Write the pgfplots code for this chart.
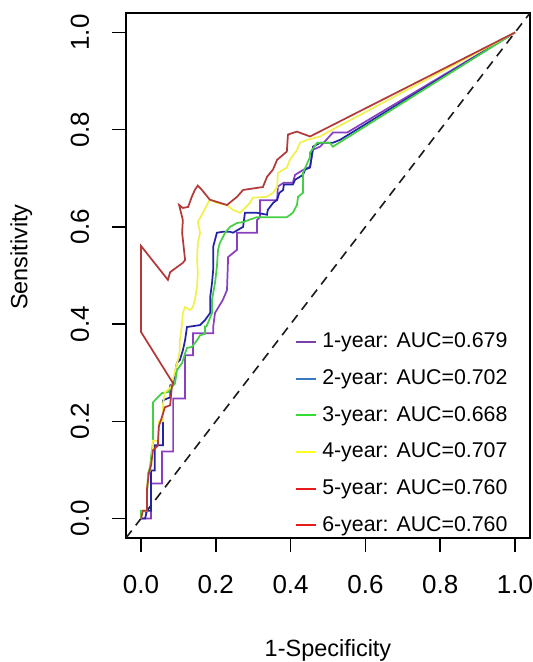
\documentclass[border=0pt]{standalone}
\usepackage{fontspec}
\setmainfont{Liberation Sans}
\usepackage{pgfplots}
\pgfplotsset{compat=1.18}

% line colours as drawn in the plot
\definecolor{lpur}{HTML}{8A3FC0}
\definecolor{lblu}{HTML}{2323A8}
\definecolor{lgrn}{HTML}{44D044}
\definecolor{lyel}{HTML}{F2F050}
\definecolor{lred}{HTML}{B23A3A}
% legend colours
\definecolor{gpur}{HTML}{7B3FA8}
\definecolor{gblu}{HTML}{3A78C0}
\definecolor{ggrn}{HTML}{33DD33}
\definecolor{gyel}{HTML}{FFFF22}
\definecolor{gred}{HTML}{E81A1A}

\begin{document}
\begin{tikzpicture}
\begin{axis}[
  name=ax,
  scale only axis, width=303pt, height=393.75pt,
  xmin=-0.04, xmax=1.04, ymin=-0.04, ymax=1.04,
  xtick={0,0.2,0.4,0.6,0.8,1}, ytick={0,0.2,0.4,0.6,0.8,1},
  xtick pos=bottom, ytick pos=left,
  tick align=outside, major tick length=10.5pt,
  axis line style={line width=1.2pt},
  tick style={line width=1.2pt, black},
  xticklabel={\pgfmathprintnumber[fixed,fixed zerofill,precision=1,assume math mode=true]{\tick}},
  yticklabel={\pgfmathprintnumber[fixed,fixed zerofill,precision=1,assume math mode=true]{\tick}},
  every tick label/.append style={font=\fontsize{19.5}{21}\selectfont},
  xticklabel style={anchor=north, inner sep=0pt},
  yticklabel style={rotate=90, anchor=south, inner sep=0pt},
  xticklabel shift=17.25pt, yticklabel shift=17pt,
  xlabel={1-Specificity}, ylabel={Sensitivity},
  xlabel style={at={(axis description cs:0.5,-0.192)}, anchor=north, inner sep=0pt,
                font=\fontsize{17.6}{20}\selectfont},
  ylabel style={at={(axis description cs:-0.2871,0.535)}, anchor=north, inner sep=0pt,
                font=\fontsize{17.6}{20}\selectfont},
  legend style={draw=none, fill=none, at={(0.4083,0.398)}, anchor=north west,
                font=\fontsize{16}{18}\selectfont, row sep=12.5pt, column sep=4pt,
                nodes={inner sep=0pt, text height=12pt, text depth=3pt}},
  legend image code/.code={\draw[#1] (0pt,0pt) -- (15pt,0pt);},
  legend cell align=left,
  every axis plot/.append style={line width=1.3pt},
]
\addlegendimage{gpur, line width=1.3pt}\addlegendentry{1-year: AUC=0.679}
\addlegendimage{gblu, line width=1.3pt}\addlegendentry{2-year: AUC=0.702}
\addlegendimage{ggrn, line width=1.3pt}\addlegendentry{3-year: AUC=0.668}
\addlegendimage{gyel, line width=1.3pt}\addlegendentry{4-year: AUC=0.707}
\addlegendimage{gred, line width=1.3pt}\addlegendentry{5-year: AUC=0.760}
\addlegendimage{gred, line width=1.3pt}\addlegendentry{6-year: AUC=0.760}

% reference diagonal
\addplot[forget plot, gray!20!black, line width=1.2pt, dash pattern=on 7pt off 5pt]
  coordinates {(-0.04,-0.04)(1.04,1.04)};

% 1-year
\addplot[forget plot, lpur] coordinates {
(0,0)(0.027,0)(0.027,0.072)(0.056,0.072)(0.056,0.138)(0.086,0.138)(0.086,0.247)
(0.118,0.247)(0.118,0.336)(0.139,0.336)(0.139,0.381)(0.193,0.381)(0.193,0.394)
(0.198,0.423)(0.219,0.45)(0.23,0.47)(0.233,0.538)(0.257,0.553)(0.257,0.588)
(0.31,0.588)(0.31,0.614)(0.318,0.62)(0.318,0.655)(0.364,0.655)(0.366,0.683)
(0.382,0.691)(0.406,0.691)(0.412,0.707)(0.433,0.717)(0.452,0.724)(0.46,0.759)
(0.479,0.765)(0.513,0.794)(0.551,0.794)(1,1)};

% 2-year
\addplot[forget plot, lblu] coordinates {
(0,0)(0.011,0)(0.016,0.016)(0.027,0.016)(0.027,0.099)(0.037,0.099)(0.037,0.151)
(0.059,0.151)(0.059,0.243)(0.07,0.247)(0.078,0.249)(0.078,0.274)(0.086,0.278)
(0.096,0.32)(0.104,0.326)(0.112,0.346)(0.118,0.367)(0.123,0.394)(0.158,0.398)
(0.171,0.408)(0.185,0.423)(0.185,0.455)(0.19,0.485)(0.193,0.511)(0.193,0.559)
(0.203,0.588)(0.219,0.59)(0.238,0.59)(0.246,0.588)(0.273,0.6)(0.278,0.629)
(0.31,0.629)(0.337,0.625)(0.339,0.635)(0.353,0.649)(0.364,0.656)(0.37,0.67)
(0.38,0.676)(0.382,0.687)(0.406,0.687)(0.412,0.697)(0.433,0.707)(0.439,0.718)
(0.452,0.722)(0.46,0.765)(0.479,0.773)(0.513,0.773)(0.532,0.779)(1,1)};

% 3-year
\addplot[forget plot, lgrn] coordinates {
(0,0)(0,0.016)(0.016,0.016)(0.016,0.043)(0.019,0.093)(0.024,0.105)(0.029,0.14)
(0.032,0.155)(0.032,0.239)(0.037,0.243)(0.056,0.258)(0.072,0.26)(0.091,0.278)
(0.096,0.305)(0.11,0.32)(0.118,0.34)(0.123,0.351)(0.136,0.353)(0.15,0.367)
(0.158,0.377)(0.171,0.38)(0.171,0.395)(0.175,0.395)(0.19,0.423)(0.19,0.45)
(0.198,0.485)(0.203,0.518)(0.206,0.553)(0.211,0.567)(0.225,0.588)(0.238,0.6)
(0.257,0.608)(0.273,0.61)(0.291,0.615)(0.31,0.62)(0.353,0.62)(0.39,0.62)
(0.406,0.629)(0.417,0.645)(0.42,0.662)(0.433,0.67)(0.433,0.711)(0.452,0.744)
(0.452,0.753)(0.471,0.773)(0.505,0.773)(0.513,0.765)(1,1)};

% 4-year
\addplot[forget plot, lyel] coordinates {
(0,0)(0.005,0.016)(0.016,0.016)(0.016,0.06)(0.021,0.093)(0.027,0.105)(0.032,0.16)
(0.045,0.16)(0.048,0.2)(0.059,0.2)(0.059,0.237)(0.064,0.26)(0.08,0.27)(0.09,0.3)
(0.1,0.33)(0.104,0.346)(0.104,0.367)(0.11,0.402)(0.112,0.423)(0.118,0.435)
(0.131,0.429)(0.139,0.435)(0.144,0.45)(0.15,0.476)(0.152,0.505)(0.15,0.532)
(0.152,0.567)(0.158,0.588)(0.152,0.61)(0.163,0.625)(0.179,0.649)(0.184,0.656)
(0.203,0.649)(0.23,0.645)(0.246,0.635)(0.265,0.629)(0.291,0.649)(0.299,0.66)
(0.337,0.662)(0.353,0.67)(0.364,0.682)(0.366,0.711)(0.39,0.722)(0.398,0.738)
(0.417,0.758)(0.425,0.773)(0.444,0.779)(0.479,0.786)(0.497,0.794)(1,1)};

% 5-year and 6-year (identical)
\addplot[forget plot, lred] coordinates {
(0,0)(0.005,0.016)(0.016,0.016)(0.016,0.06)(0.021,0.093)(0.027,0.11)(0.032,0.14)
(0.045,0.15)(0.048,0.19)(0.059,0.216)(0.064,0.229)(0.078,0.233)(0.083,0.274)
(0.086,0.278)(0,0.384)(0,0.561)(0.072,0.491)(0.078,0.507)(0.112,0.526)
(0.118,0.532)(0.11,0.588)(0.112,0.614)(0.102,0.645)(0.112,0.639)(0.126,0.641)
(0.136,0.662)(0.144,0.676)(0.152,0.685)(0.163,0.676)(0.184,0.656)(0.23,0.645)
(0.257,0.662)(0.273,0.676)(0.326,0.682)(0.337,0.703)(0.353,0.718)(0.364,0.738)
(0.39,0.755)(0.393,0.79)(0.417,0.796)(0.452,0.786)(1,1)};
\end{axis}
\pgfresetboundingbox
\path[use as bounding box] ([xshift=-94.5pt,yshift=-93pt]ax.south west) rectangle ++(399.75pt,496.5pt);
\end{tikzpicture}
\end{document}
